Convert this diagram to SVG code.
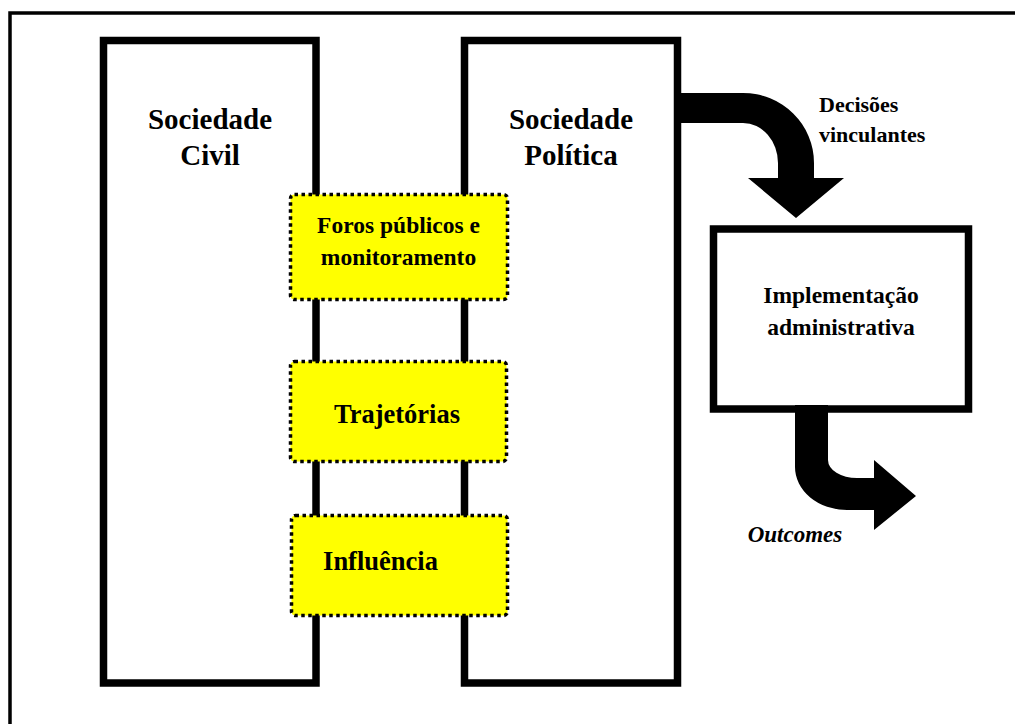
<svg xmlns="http://www.w3.org/2000/svg" width="1015" height="724" viewBox="0 0 1015 724">
<style>
.big{fill:#fff;stroke:#000;stroke-width:7.5}
.yel{fill:#ffff00;stroke:#000;stroke-width:3.5;stroke-dasharray:3.5 3.5}
.t{font-family:"Liberation Serif","Times New Roman",serif;font-weight:bold;fill:#000;text-anchor:middle}
.arrow{fill:#000;stroke:none}
</style>
<rect x="0" y="0" width="1015" height="724" fill="#fff"/>
<rect id="frame" x="10" y="13" width="1015" height="730" fill="none" stroke="#000" stroke-width="3.5"/>
<g id="sociedade-civil">
<rect class="big" x="103.5" y="40.5" width="212.5" height="642.5"/>
<text class="t" x="210" y="129" font-size="29">Sociedade</text>
<text class="t" x="210" y="165" font-size="29">Civil</text>
</g>
<g id="sociedade-politica">
<rect class="big" x="464.5" y="40.5" width="213" height="642.5"/>
<text class="t" x="571" y="129" font-size="29">Sociedade</text>
<text class="t" x="571" y="165" font-size="29">Política</text>
</g>
<g id="implementacao">
<rect class="big" x="713.5" y="229" width="255" height="180"/>
<text class="t" x="841" y="303" font-size="23.5">Implementação</text>
<text class="t" x="841" y="335" font-size="23.5">administrativa</text>
</g>
<g id="connectors">
<path class="arrow" d="M 678 93 L 743 93 A 71 70 0 0 1 814 163 L 814 178 L 844 178 L 796 218 L 748 178 L 778 178 L 778 163 A 35 40 0 0 0 743 123 L 678 123 Z"/>
<path class="arrow" d="M 795 405 L 828 405 L 828 460 A 29 18 0 0 0 857 478 L 874 478 L 874 460 L 916 496 L 874 530 L 874 510 L 847 510 A 52 43 0 0 1 795 467 Z"/>
<text class="t" x="819" y="112" font-size="22" text-anchor="start" style="text-anchor:start">Decisões</text>
<text class="t" x="819" y="142" font-size="22" style="text-anchor:start">vinculantes</text>
<text class="t" x="795" y="542" font-size="23" font-style="italic">Outcomes</text>
</g>
<g id="foros">
<rect class="yel" x="290.5" y="194.5" width="217" height="105" rx="4"/>
<text class="t" x="398.5" y="233" font-size="23.5">Foros públicos e</text>
<text class="t" x="398.5" y="265" font-size="23.5">monitoramento</text>
</g>
<g id="trajetorias">
<rect class="yel" x="290.5" y="361.5" width="216" height="100" rx="4"/>
<text class="t" x="397" y="423" font-size="26.5">Trajetórias</text>
</g>
<g id="influencia">
<rect class="yel" x="291.5" y="515.5" width="216" height="100" rx="4"/>
<text class="t" x="380.5" y="570" font-size="26.5">Influência</text>
</g>
</svg>
